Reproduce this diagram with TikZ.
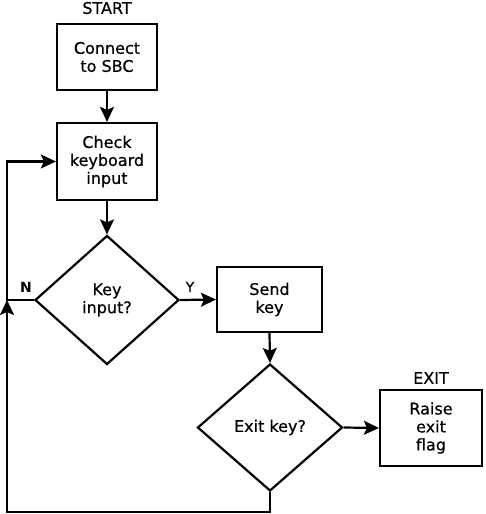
\documentclass[tikz,border=0pt]{standalone}
\usepackage{fontspec}
\setmainfont{DejaVu Sans}[UprightFeatures={FakeBold=0.5}]
\usetikzlibrary{shapes.geometric,arrows.meta}

\begin{document}
\begin{tikzpicture}[
  x=1pt, y=-1pt,
  every node/.style={font=\fontsize{16}{18}\selectfont, align=center},
  stepbox/.style={rectangle, draw, line width=2.2pt, inner sep=0pt},
  decision/.style={diamond, draw, line width=2.2pt, inner sep=0pt},
  flow/.style={line width=2.2pt, -{Stealth[length=15pt,width=14pt,inset=3pt]}},
  edge/.style={font=\fontsize{14}{16}\selectfont}
  ]
  \useasboundingbox (0,0) rectangle (486,514);
  \node (start) at (107,8) {START};
  \node[stepbox, minimum width=100pt, minimum height=66pt] (connect) at (107,57) {Connect\\to SBC};
  \node[stepbox, minimum width=100pt, minimum height=77pt] (check) at (107,161.5) {Check\\keyboard\\input};
  \node[decision, minimum width=144pt, minimum height=129pt] (keyq) at (107,300) {Key\\input?};
  \node[stepbox, minimum width=105pt, minimum height=65pt] (send) at (269.5,299.5) {Send\\key};
  \node[decision, minimum width=145pt, minimum height=127pt] (exitq) at (270,427.5) {Exit key?};
  \node[stepbox, minimum width=102pt, minimum height=76pt] (raise) at (431,428) {Raise\\exit\\flag};
  \node (exit) at (431,378) {EXIT};
  \node[edge, font=\fontsize{14}{16}\selectfont\bfseries] (no) at (26,287) {N};
  \node[edge] (yes) at (190,287) {Y};
  \coordinate (join) at (7,300);
  \coordinate (low) at (7,512);

  \draw[flow] (connect) -- (check);
  \draw[flow] (check) -- (keyq);
  \draw[flow] (keyq.east) -- (send.west);
  \draw[flow] (send.south) -- (exitq.north);
  \draw[flow] (exitq.east) -- (raise.west);
  \draw[flow] (keyq.west) -- (join) |- (check.west);
  \draw[flow] (exitq.south) |- (low) -- (join);
\end{tikzpicture}
\end{document}
